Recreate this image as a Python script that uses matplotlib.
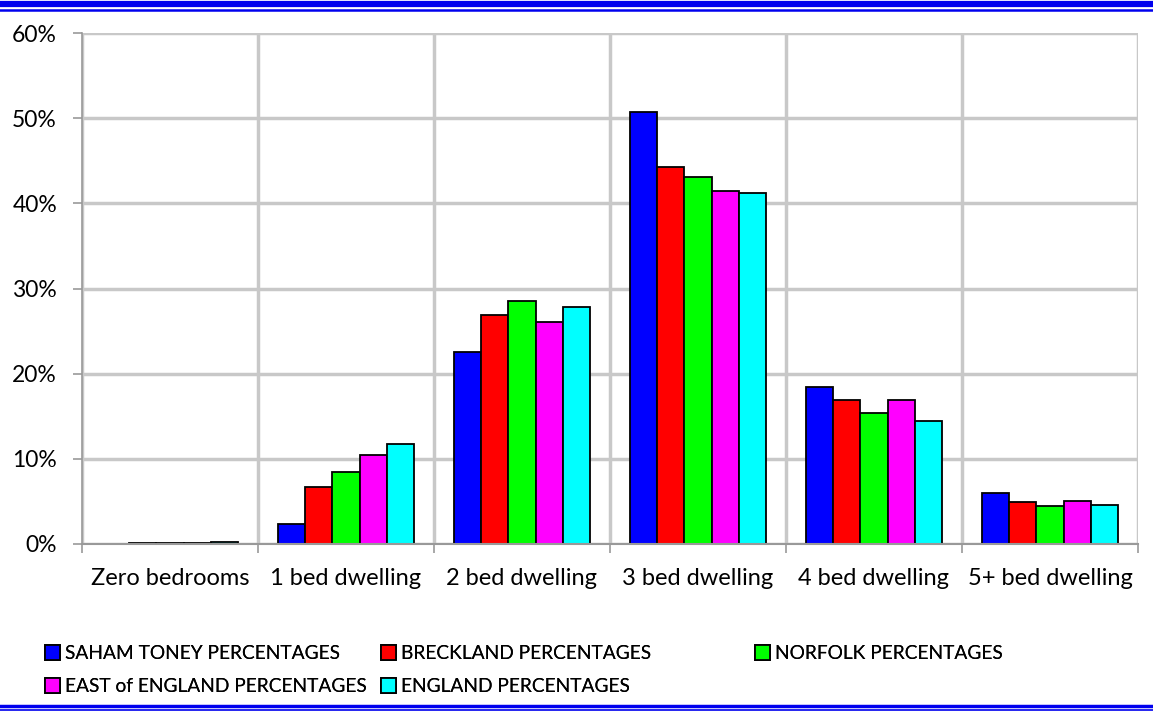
#!/usr/bin/env python3
"""Bedrooms per dwelling: Saham Toney vs wider areas (grouped bars)."""

import matplotlib
matplotlib.use("Agg")
import matplotlib.pyplot as plt
from matplotlib.lines import Line2D
from matplotlib.patches import Patch
from matplotlib.ticker import FixedLocator, PercentFormatter
import numpy as np

categories = ["Zero bedrooms", "1 bed dwelling", "2 bed dwelling",
              "3 bed dwelling", "4 bed dwelling", "5+ bed dwelling"]

saham_toney = [0.0, 2.3, 22.6, 50.7, 18.4, 6.0]
breckland = [0.1, 6.7, 26.9, 44.3, 16.9, 4.9]
norfolk = [0.1, 8.4, 28.5, 43.1, 15.4, 4.5]
east_of_england = [0.15, 10.4, 26.1, 41.4, 16.9, 5.1]
england = [0.2, 11.8, 27.8, 41.2, 14.4, 4.6]

series = [
    ("SAHAM TONEY PERCENTAGES", saham_toney, "#0000ff"),
    ("BRECKLAND PERCENTAGES", breckland, "#ff0000"),
    ("NORFOLK PERCENTAGES", norfolk, "#00ff00"),
    ("EAST of ENGLAND PERCENTAGES", east_of_england, "#ff00ff"),
    ("ENGLAND PERCENTAGES", england, "#00ffff"),
]

plt.rcParams["font.family"] = ["Lato", "DejaVu Sans"]

fig = plt.figure(figsize=(11.53, 7.11), dpi=100)
ax = fig.add_axes([82 / 1153, 1 - 544 / 711, (1138 - 82) / 1153, (544 - 33) / 711])

x = np.arange(len(categories))
bar_w = 0.155
for i, (name, vals, color) in enumerate(series):
    ax.bar(x + (i - 2) * bar_w, vals, bar_w, color=color, edgecolor="black",
           linewidth=1.3, label=name, zorder=3)

ax.set_xlim(-0.5, len(categories) - 0.5)
ax.set_ylim(0, 60)
ax.yaxis.set_major_locator(FixedLocator(np.arange(0, 61, 10)))
ax.yaxis.set_major_formatter(PercentFormatter(decimals=0))

# category boundaries carry the vertical grid and the tick marks
ax.xaxis.set_major_locator(FixedLocator(np.arange(-0.5, len(categories), 1)))
ax.xaxis.set_minor_locator(FixedLocator(x))
ax.set_xticklabels([])
ax.set_xticklabels(categories, minor=True)
ax.tick_params(axis="x", which="minor", length=0, pad=17, labelsize=17)
ax.tick_params(axis="x", which="major", length=6.5, width=1.2, color="#999999", direction="out")
ax.tick_params(axis="y", length=6.5, width=1.2, color="#999999", direction="out", labelsize=16.5, pad=11.5)

ax.grid(True, which="major", color="#c8c8c8", linewidth=2.5, zorder=0)
for side in ("top", "right"):
    ax.spines[side].set_visible(False)
ax.spines["left"].set_color("#999999")
ax.spines["left"].set_linewidth(1.2)
ax.spines["bottom"].set_color("#999999")
ax.spines["bottom"].set_linewidth(1.5)
ax.spines["bottom"].set_zorder(4)

# legend laid out like Excel: three columns at fixed positions, filled row-wise
handles = [Patch(facecolor=c, edgecolor="black", linewidth=1.3) for _, _, c in series]
labels = [n for n, _, _ in series]
columns = [([0, 3], 45), ([1, 4], 381), ([2], 755)]
for idx, left in columns:
    leg = fig.legend([handles[i] for i in idx], [labels[i] for i in idx],
                     loc="upper left", bbox_to_anchor=(left / 1153, 1 - 645 / 711),
                     frameon=False, fontsize=13.8, handlelength=0.8, handleheight=0.8,
                     handletextpad=0.25, labelspacing=0.85, borderaxespad=0, borderpad=0)
    fig.add_artist(leg)

# double blue rules at top and bottom
for y, lw in [(1 - 3.5 / 711, 4.5), (1 - 9.5 / 711, 1.8), (1 - 706 / 711, 2.5), (1 - 710 / 711, 1.2)]:
    fig.add_artist(Line2D([0, 1], [y, y], transform=fig.transFigure, color="#0000ee", linewidth=lw))

fig.savefig("out.png", dpi=100)
